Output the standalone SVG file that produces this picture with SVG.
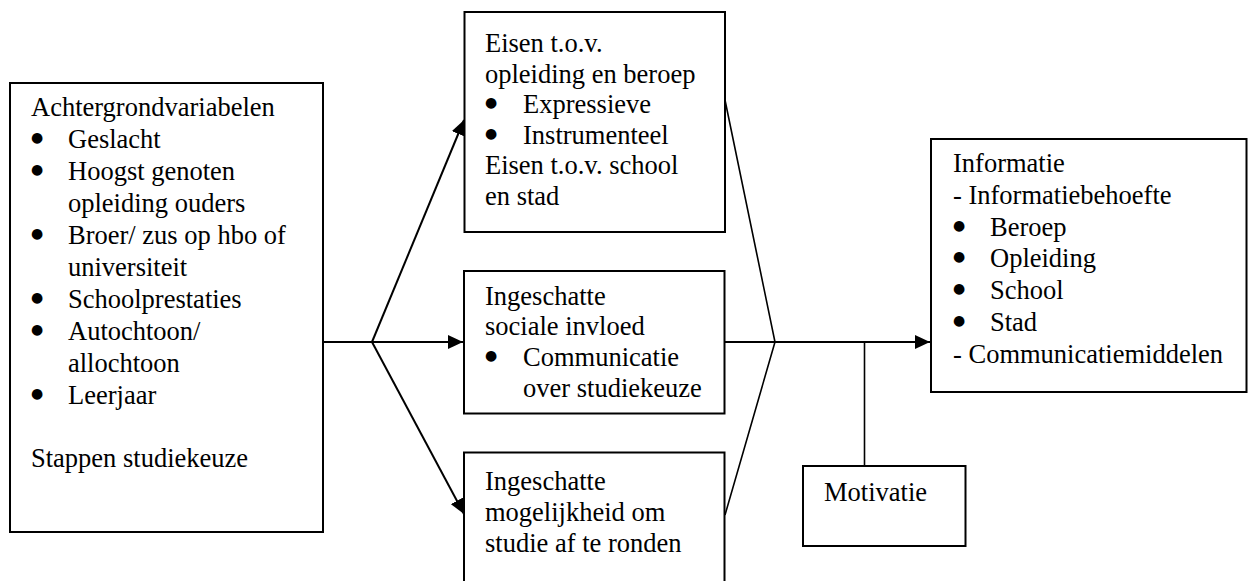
<svg xmlns="http://www.w3.org/2000/svg" width="1248" height="581" viewBox="0 0 1248 581">
<style>
.box{fill:#fff;stroke:#000;stroke-width:2}
.t{font-family:"Liberation Serif","Times New Roman",serif;font-size:26.5px;fill:#000}
.b{font-family:"DejaVu Sans",sans-serif;font-size:14px;fill:#000}
.ln{fill:none;stroke:#000;stroke-width:2}
.ln2{fill:none;stroke:#000;stroke-width:1.6}
</style>
<defs>
<marker id="ah" viewBox="0 0 15 14" refX="15" refY="7" markerWidth="15" markerHeight="14" markerUnits="userSpaceOnUse" orient="auto">
<path d="M0,0 L15,7 L0,14 Z" fill="#000"/>
</marker>
</defs>
<rect width="1248" height="581" fill="#fff"/>
<g id="connectors">
<line class="ln" x1="322" y1="342" x2="372" y2="342"/>
<line class="ln" x1="372" y1="342" x2="463" y2="342" marker-end="url(#ah)"/>
<line class="ln" x1="372" y1="342" x2="464" y2="120" marker-end="url(#ah)"/>
<line class="ln" x1="372" y1="342" x2="464" y2="514" marker-end="url(#ah)"/>
<polyline class="ln2" points="725,100 775,342 725,515"/>
<line class="ln" x1="722" y1="342" x2="930" y2="342" marker-end="url(#ah)"/>
<line class="ln2" x1="864.5" y1="342" x2="864.5" y2="466"/>
</g>
<g id="achtergrond">
<rect class="box" x="10" y="83" width="313" height="449"/>
<text class="t" x="31" y="116">Achtergrondvariabelen</text>
<text class="b" x="31" y="142">●</text><text class="t" x="68" y="148">Geslacht</text>
<text class="b" x="31" y="174">●</text><text class="t" x="68" y="180">Hoogst genoten</text>
<text class="t" x="68" y="212">opleiding ouders</text>
<text class="b" x="31" y="238">●</text><text class="t" x="68" y="244">Broer/ zus op hbo of</text>
<text class="t" x="68" y="276">universiteit</text>
<text class="b" x="31" y="302">●</text><text class="t" x="68" y="308">Schoolprestaties</text>
<text class="b" x="31" y="334">●</text><text class="t" x="68" y="340">Autochtoon/</text>
<text class="t" x="68" y="372">allochtoon</text>
<text class="b" x="31" y="398">●</text><text class="t" x="68" y="404">Leerjaar</text>
<text class="t" x="31" y="467">Stappen studiekeuze</text>
</g>
<g id="eisen">
<rect class="box" x="464.5" y="12" width="260.5" height="220"/>
<text class="t" x="485" y="52">Eisen t.o.v.</text>
<text class="t" x="485" y="82.5">opleiding en beroep</text>
<text class="b" x="485" y="107">●</text><text class="t" x="523" y="113">Expressieve</text>
<text class="b" x="485" y="137.5">●</text><text class="t" x="523" y="143.5">Instrumenteel</text>
<text class="t" x="485" y="174">Eisen t.o.v. school</text>
<text class="t" x="485" y="204.5">en stad</text>
</g>
<g id="sociale">
<rect class="box" x="464" y="271" width="260.5" height="142.5"/>
<text class="t" x="485" y="305">Ingeschatte</text>
<text class="t" x="485" y="335">sociale invloed</text>
<text class="b" x="485" y="360">●</text><text class="t" x="523" y="366">Communicatie</text>
<text class="t" x="523" y="397">over studiekeuze</text>
</g>
<g id="mogelijkheid">
<rect class="box" x="464" y="452.5" width="260.5" height="140"/>
<text class="t" x="485" y="490">Ingeschatte</text>
<text class="t" x="485" y="521">mogelijkheid om</text>
<text class="t" x="485" y="551.5">studie af te ronden</text>
</g>
<g id="motivatie">
<rect class="box" x="803" y="466" width="162.5" height="80"/>
<text class="t" x="824" y="501">Motivatie</text>
</g>
<g id="informatie">
<rect class="box" x="931" y="139" width="315.5" height="253"/>
<text class="t" x="953" y="171.5">Informatie</text>
<text class="t" x="953" y="203.5">- Informatiebehoefte</text>
<text class="b" x="953" y="229.5">●</text><text class="t" x="990" y="235.5">Beroep</text>
<text class="b" x="953" y="261">●</text><text class="t" x="990" y="267">Opleiding</text>
<text class="b" x="953" y="293">●</text><text class="t" x="990" y="299">School</text>
<text class="b" x="953" y="325">●</text><text class="t" x="990" y="331">Stad</text>
<text class="t" x="953" y="363">- Communicatiemiddelen</text>
</g>
</svg>
